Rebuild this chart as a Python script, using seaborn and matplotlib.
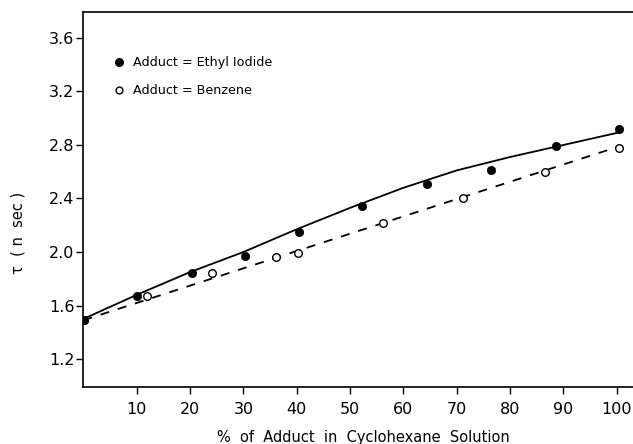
import matplotlib
matplotlib.use("Agg")
import matplotlib.pyplot as plt
import seaborn as sns
import pandas as pd

# Data
ethyl_x = [0.2, 10.0, 20.3, 30.3, 40.4, 52.2, 64.4, 76.4, 88.6, 100.5]
ethyl_y = [1.49, 1.67, 1.84, 1.97, 2.15, 2.345, 2.51, 2.61, 2.79, 2.92]
benz_x = [0.2, 11.9, 24.1, 36.2, 40.3, 56.2, 71.2, 86.6, 100.5]
benz_y = [1.49, 1.67, 1.84, 1.96, 1.995, 2.22, 2.405, 2.60, 2.78]
curve_x = [0, 10, 20, 30, 40, 50, 60, 70, 80, 90, 100, 100.5]
curve_y = [1.50, 1.68, 1.85, 2.00, 2.17, 2.33, 2.48, 2.61, 2.71, 2.80, 2.89, 2.895]
fit_x = [0, 100.5]
fit_y = [1.49, 2.79]
x_ticks = [10, 20, 30, 40, 50, 60, 70, 80, 90, 100]
y_ticks = [1.2, 1.6, 2.0, 2.4, 2.8, 3.2, 3.6]
legend_labels = ["Adduct = Ethyl Iodide", "Adduct = Benzene"]

sns.set_theme(style="ticks")
plt.rcParams['font.family'] = ['DejaVu Sans']
plt.rcParams['text.color'] = 'black'

fig = plt.figure(figsize=(6.33, 4.44), dpi=100)
ax = fig.add_axes([83.4 / 633, (444 - 387) / 444, 1 - 83.4 / 633, (387 - 12) / 444])

df_e = pd.DataFrame({"x": ethyl_x, "y": ethyl_y})
df_b = pd.DataFrame({"x": benz_x, "y": benz_y})
df_c = pd.DataFrame({"x": curve_x, "y": curve_y})
df_f = pd.DataFrame({"x": fit_x, "y": fit_y})

sns.lineplot(data=df_c, x="x", y="y", ax=ax, color="black", lw=1.3, sort=True)
sns.lineplot(data=df_f, x="x", y="y", ax=ax, color="black", lw=1.3)
ax.lines[-1].set_dashes([5, 5])
sns.scatterplot(data=df_b, x="x", y="y", ax=ax, marker="o", s=30,
                facecolor="white", edgecolor="black", linewidth=1.0, zorder=4)
sns.scatterplot(data=df_e, x="x", y="y", ax=ax, marker="o", s=36,
                color="black", edgecolor="black", linewidth=0.5, zorder=5)

ax.set_xlim(0, 103.05)
ax.set_ylim(0.991, 3.794)
ax.set_xticks(x_ticks)
ax.set_xticklabels([str(t) for t in x_ticks])
ax.set_yticks(y_ticks)
ax.set_yticklabels([f"{t:.1f}" for t in y_ticks])
ax.tick_params(axis="both", direction="out", length=5, width=1.0, labelsize=11.5, colors="black")
ax.tick_params(axis="x", pad=6)
ax.tick_params(axis="y", pad=1.5)

for s in ["left", "bottom", "top"]:
    ax.spines[s].set_visible(True)
    ax.spines[s].set_color("black")
    ax.spines[s].set_linewidth(1.2)
ax.spines["right"].set_visible(False)

ax.set_xlabel("")
ax.set_ylabel("")
fig.text(363 / 633, (444 - 437) / 444, "%  of  Adduct  in  Cyclohexane  Solution",
         fontsize=10.5, ha="center", va="center", color="black")
fig.text(18 / 633, (444 - 233) / 444, "τ  ( n  sec )", fontsize=10.5,
         rotation=90, ha="center", va="center", color="black")

# Legend drawn as data markers with text
ax.scatter([6.7], [3.42], marker="o", s=30, color="black", zorder=5)
ax.scatter([6.7], [3.21], marker="o", s=24, facecolor="white", edgecolor="black", linewidth=1.0, zorder=5)
ax.text(9.3, 3.42, legend_labels[0], va="center", ha="left", fontsize=9.2, color="black")
ax.text(9.3, 3.21, legend_labels[1], va="center", ha="left", fontsize=9.2, color="black")

fig.savefig("out.png", dpi=100)
